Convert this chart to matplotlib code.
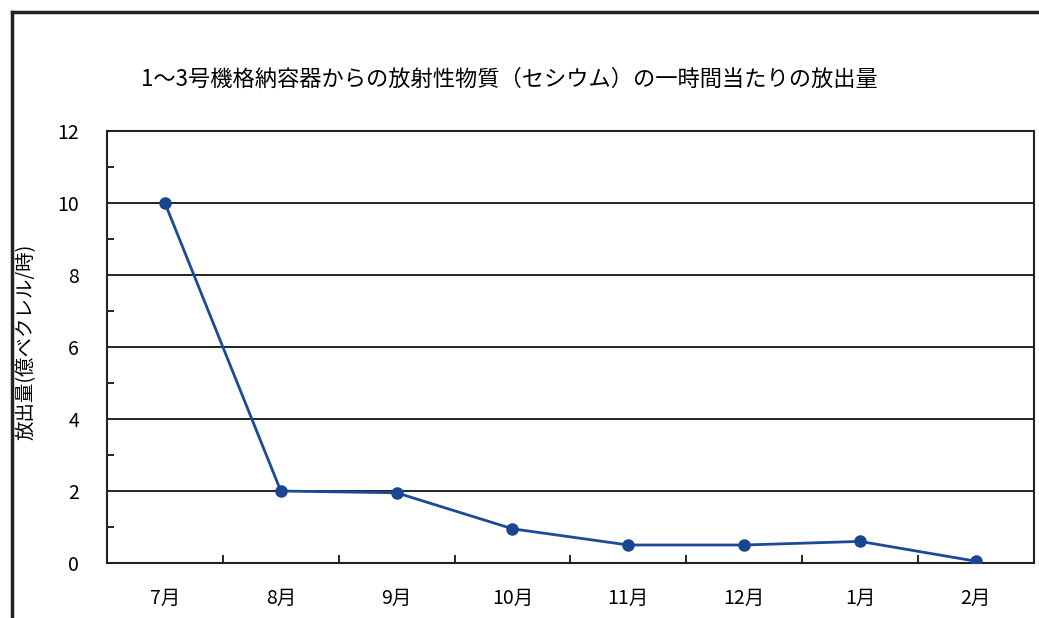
import matplotlib
matplotlib.use("Agg")
from matplotlib import pyplot as plt
from matplotlib.lines import Line2D

plt.rcParams['font.family'] = ['Noto Sans CJK JP', 'DejaVu Sans']

months = ['7月', '8月', '9月', '10月', '11月', '12月', '1月', '2月']
release = [10.0, 2.0, 1.95, 0.95, 0.5, 0.5, 0.6, 0.05]
y_ticks = [0, 2, 4, 6, 8, 10, 12]

title = '1～3号機格納容器からの放射性物質（セシウム）の一時間当たりの放出量'
ylabel = '放出量(億ベクレル/時)'

fig = plt.figure(figsize=(10.39, 6.18), dpi=100)
ax = fig.add_axes([0.103, 0.089, 0.892, 0.699])

x = list(range(len(months)))
ax.plot(x, release, color='#1d4a96', linewidth=2, marker='o', markersize=8,
        markerfacecolor='#1a4590', markeredgecolor='#1a4590', zorder=3)

ax.set_xlim(-0.5, len(months) - 0.5)
ax.set_ylim(0, 12)
ax.set_yticks(y_ticks)
ax.set_yticks([1, 3, 5, 7, 9, 11], minor=True)
ax.set_xticks(x)
ax.set_xticklabels(months)
ax.set_xticks([i + 0.5 for i in x[:-1]], minor=True)

ax.tick_params(axis='x', which='major', length=0, pad=18, labelsize=14)
ax.tick_params(axis='x', which='minor', direction='in', length=6, width=1.2)
ax.tick_params(axis='y', which='major', length=0, pad=20, labelsize=14)
ax.tick_params(axis='y', which='minor', direction='in', length=5, width=1.2)

ax.grid(axis='y', which='major', color='#222222', linewidth=1.4)
for s in ax.spines.values():
    s.set_linewidth(1.5)
    s.set_color('#222222')

fig.text(0.025, 0.446, ylabel, rotation=90, ha='center', va='center', fontsize=14)
fig.text(0.49, 0.872, title, ha='center', va='center', fontsize=16)

# outer border of the scanned chart area
fig.add_artist(Line2D([0.012, 0.012], [0.0, 0.981], color='#222222', linewidth=2.5))
fig.add_artist(Line2D([0.012, 1.0], [0.981, 0.981], color='#222222', linewidth=2.5))

fig.savefig('out.png', dpi=100)
